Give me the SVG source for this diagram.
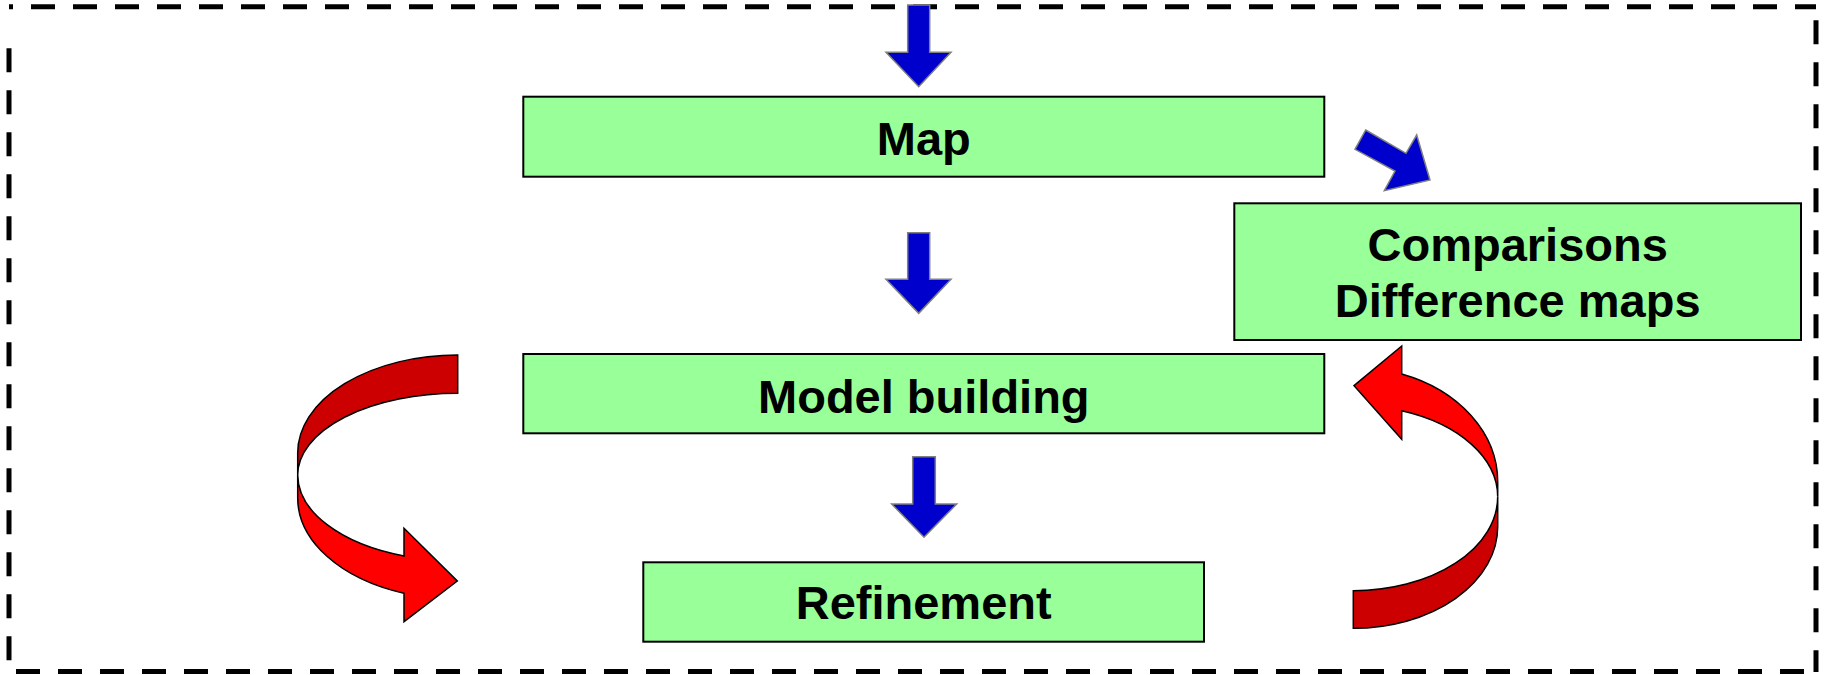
<svg xmlns="http://www.w3.org/2000/svg" width="1831" height="675" viewBox="0 0 1831 675">
  <style>
    .frame { stroke: #000; stroke-width: 5; stroke-dasharray: 24 18; fill: none; }
    .box { fill: #99FF99; stroke: #000; stroke-width: 2; }
    .label { font-family: "Liberation Sans", Arial, sans-serif; font-weight: bold; font-size: 47px; fill: #000; text-anchor: middle; }
    .blue { fill: #0000CC; stroke: #808080; stroke-width: 1.5; stroke-linejoin: miter; }
    .front { fill: #FF0000; stroke: #000; stroke-width: 1.5; stroke-linejoin: miter; }
    .back { fill: #CC0000; stroke: #000; stroke-width: 1.5; stroke-linejoin: miter; }
  </style>

  <rect width="1831" height="675" fill="#fff"/>

  <!-- dashed outer frame -->
  <g id="frame">
    <line class="frame" x1="9" y1="6.7" x2="1816" y2="6.7" stroke-dashoffset="20"/>
    <line class="frame" x1="9" y1="48.3" x2="9" y2="672"/>
    <line class="frame" x1="1816" y1="20.3" x2="1816" y2="672"/>
    <line class="frame" x1="16" y1="671.5" x2="1816" y2="671.5"/>
  </g>

  <!-- nodes -->
  <g id="map">
    <rect class="box" x="523.3" y="96.7" width="801" height="80"/>
    <text class="label" x="923.8" y="155">Map</text>
  </g>
  <g id="comparisons">
    <rect class="box" x="1234.3" y="203.3" width="566.7" height="136.7"/>
    <text class="label" x="1517.7" y="261">Comparisons</text>
    <text class="label" x="1517.7" y="316.7">Difference maps</text>
  </g>
  <g id="model-building">
    <rect class="box" x="523.3" y="354" width="801" height="79.3"/>
    <text class="label" x="923.8" y="412.7">Model building</text>
  </g>
  <g id="refinement">
    <rect class="box" x="643.3" y="562.3" width="560.7" height="79.4"/>
    <text class="label" x="923.7" y="619.3">Refinement</text>
  </g>

  <!-- connectors -->
  <g id="connectors">
    <!-- block arrows pointing down -->
    <polygon class="blue" points="907.7,5 929.7,5 929.7,52.3 951,52.3 918.7,86.7 886,52.3 907.7,52.3"/>
    <polygon class="blue" points="907.7,232.7 929.7,232.7 929.7,279.3 951,279.3 918.7,313.3 886,279.3 907.7,279.3"/>
    <polygon class="blue" points="912.7,456.7 935.3,456.7 935.3,504 956.7,504 924,537.3 891.7,504 912.7,504"/>
    <!-- diagonal arrow towards comparisons -->
    <polygon class="blue" points="1365.7,130 1406,153.3 1416.7,135 1430,180 1384.3,190.7 1395,171 1355,149.3"/>

    <!-- curved arrow, left side (model building to refinement) -->
    <path class="back" d="M 457.7 355 A 160 98 0 0 0 297.7 453 L 297.7 475 A 160 81.7 0 0 1 457.7 393.3 Z"/>
    <path class="front" d="M 297.7 498 A 160 101.2 0 0 0 404 593.3 L 404 621.7 L 457.3 581 L 404 528.3 L 404 556 A 158.2 86 0 0 1 297.7 475 Z"/>

    <!-- curved arrow, right side (refinement back up) -->
    <path class="back" d="M 1497.7 526.7 A 144.4 101.6 0 0 1 1353.3 628.3 L 1353.3 590.7 A 144.4 94 0 0 0 1497.7 496.7 Z"/>
    <path class="front" d="M 1497.7 481.7 A 144.4 114.4 0 0 0 1401.7 374 L 1401.7 346 L 1354 385.7 L 1401.7 439.3 L 1401.7 410.7 A 144.4 91.3 0 0 1 1497.7 496.7 Z"/>
  </g>
</svg>
